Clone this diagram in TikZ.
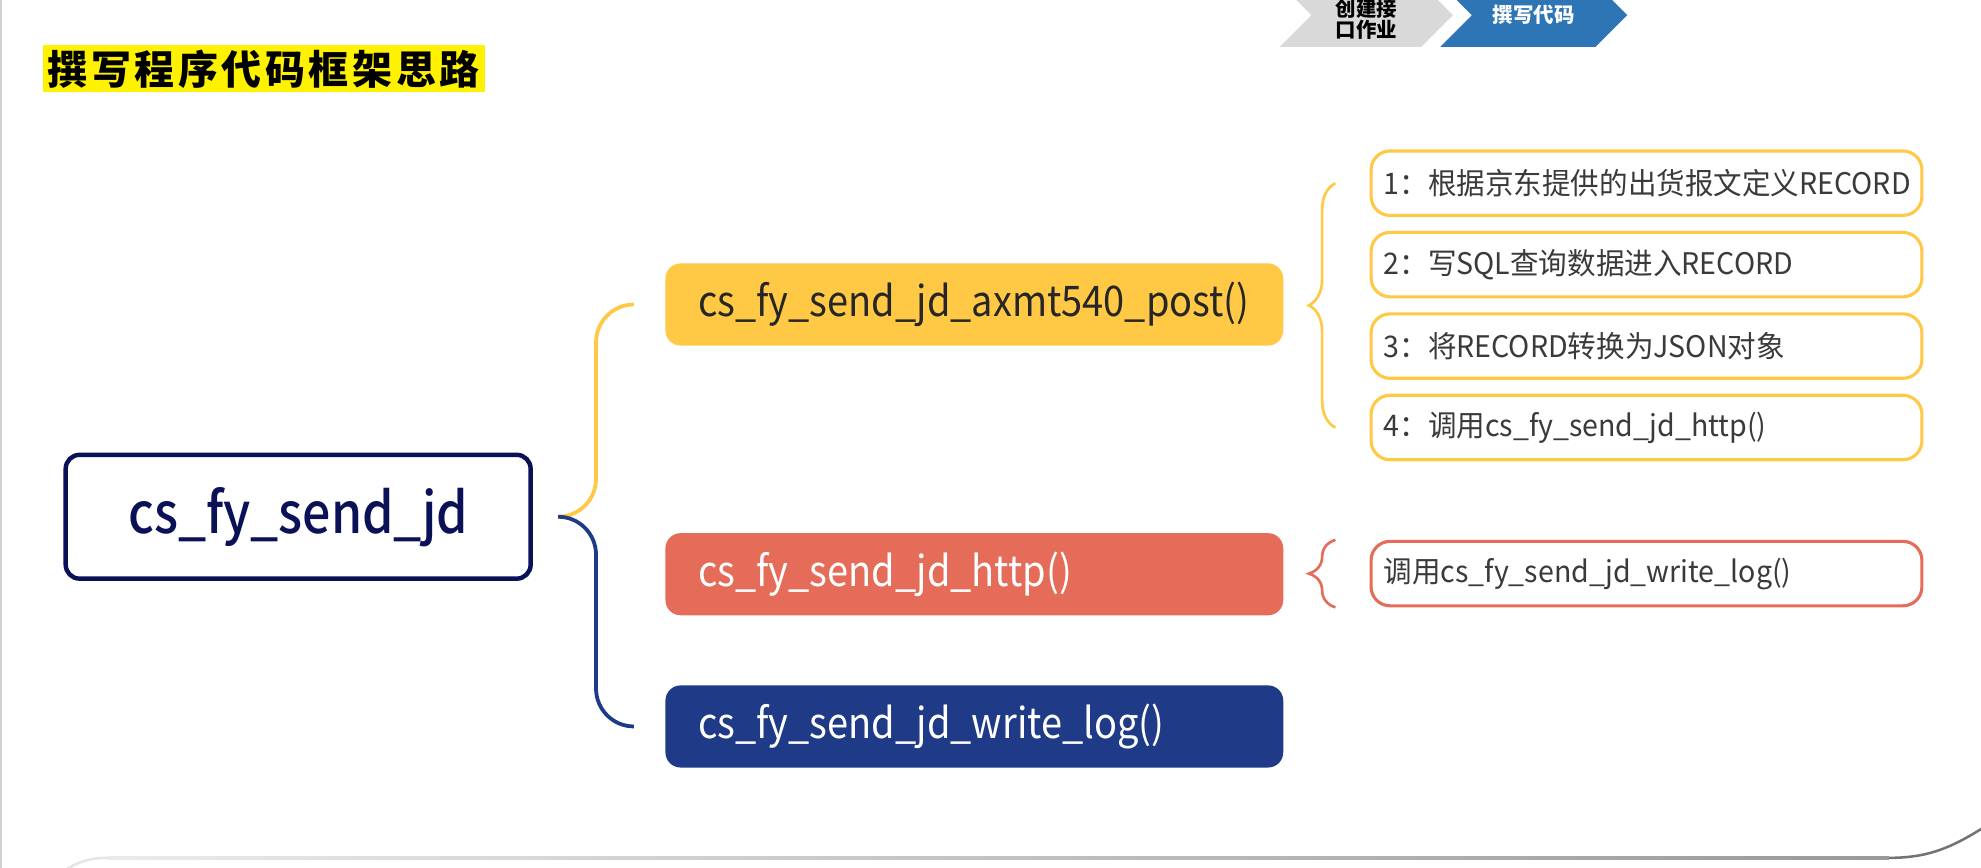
\documentclass[tikz,border=0pt]{standalone}
\usepackage{fontspec}
\setmainfont{Noto Sans CJK SC}
\newfontfamily\medio{Noto Sans CJK SC Medium}
\usetikzlibrary{positioning,shapes.symbols,decorations.pathreplacing}
\definecolor{jdyellow}{HTML}{FFC845}
\definecolor{jdred}{HTML}{E46C59}
\definecolor{jdblue}{HTML}{1F3A86}
\definecolor{jdnavy}{HTML}{0B1157}
\definecolor{stepblue}{HTML}{2E75B6}
\definecolor{stepgray}{HTML}{D9D9D9}
\definecolor{leaftext}{HTML}{3A3A3A}
\tikzstyle{radice} = [rectangle, draw=jdnavy, line width=1pt, rounded corners=1.1mm,
    minimum width=36.8mm, minimum height=9.8mm, text=jdnavy,
    font=\medio\fontsize{12.8}{15}\selectfont\addfontfeature{FakeStretch=0.88}]
\tikzstyle{ramo} = [rectangle, rounded corners=1.2mm, anchor=west, align=left,
    minimum height=6.5mm, text width=43.7mm, inner xsep=2.6mm, inner ysep=0pt,
    font=\fontsize{9.5}{11}\selectfont\addfontfeature{FakeStretch=0.9}]
\tikzstyle{foglia} = [rectangle, draw, line width=0.7pt, fill=white, rounded corners=1.5mm,
    anchor=west, align=left, minimum height=5.1mm, text width=41.6mm, inner xsep=1mm,
    inner ysep=0pt, text=leaftext, font=\fontsize{6.7}{8}\selectfont\addfontfeature{FakeStretch=0.96}]
\tikzstyle{linea} = [line width=0.85pt, rounded corners=3mm]
\tikzstyle{graffa} = [line width=0.6pt, decorate, decoration={brace, amplitude=2.1mm}]
\tikzstyle{fase} = [signal, signal from=west, signal to=east, minimum height=5mm, inner sep=0pt]
\tikzstyle{fasetesto} = [inner sep=0pt, align=center, font=\fontsize{4.6}{4.7}\selectfont\bfseries]

\begin{document}
\begin{tikzpicture}[x=1mm, y=-1mm]
  \useasboundingbox (0,0) rectangle (156.8,68.7);
  \clip (0,0) rectangle (156.8,68.7);
  \draw[black!18, line width=0.5pt] (0.1,0) -- (0.1,68.7);
  \shade[left color=black!8, right color=black!40] (8.5,67.8) rectangle (149.5,68.0);
  \draw[black!10, line width=0.57pt] (4.5,69.3) to[out=35,in=180] (8.5,67.9);
  \draw[black!55, line width=0.57pt] (149.5,67.9) to[out=0,in=212] (157,65.5);

  \node[fase, fill=stepgray, minimum width=13.7mm] (fase1) at (108.15,1.2) {};
  \node[fase, fill=stepblue, minimum width=14.8mm] (fase2) at (121.4,1.2) {};
  \node[fasetesto] at ([yshift=-0.35mm]fase1.center) {创建接\\口作业};
  \node[fasetesto, text=white] at (fase2.center) {撰写代码};
  \node[fill=yellow, anchor=west, minimum height=3.7mm, inner xsep=0.4mm, inner ysep=0pt,
    font=\fontsize{9}{10}\selectfont\bfseries\addfontfeature{LetterSpace=9}] (titolo) at (3.3,5.45) {撰写程序代码框架思路};

  \node[radice] (root) at (23.6,40.9) {cs\_fy\_send\_jd};
  \node[ramo, fill=jdyellow, text=black!85] (axmt) at (52.6,24.1) {cs\_fy\_send\_jd\_axmt540\_post()};
  \node[ramo, fill=jdred, text=white] (http) at (52.6,45.45) {cs\_fy\_send\_jd\_http()};
  \node[ramo, fill=jdblue, text=white] (log) at (52.6,57.5) {cs\_fy\_send\_jd\_write\_log()};

  \node[foglia, draw=jdyellow] (passo1) at (108.4,14.5) {1：根据京东提供的出货报文定义RECORD};
  \node[foglia, draw=jdyellow, below=1.1mm of passo1] (passo2) {2：写SQL查询数据进入RECORD};
  \node[foglia, draw=jdyellow, below=1.1mm of passo2] (passo3) {3：将RECORD转换为JSON对象};
  \node[foglia, draw=jdyellow, below=1.1mm of passo3] (passo4) {4：调用cs\_fy\_send\_jd\_http()};
  \node[foglia, draw=jdred] (scrivi) at (108.4,45.4) {调用cs\_fy\_send\_jd\_write\_log()};

  \draw[linea, jdyellow] ([xshift=2mm]root.east) -- ++(3mm,0) |- ([xshift=-2.5mm]axmt.west);
  \draw[linea, jdblue] ([xshift=2mm]root.east) -- ++(3mm,0) |- ([xshift=-2.5mm]log.west);
  \draw[graffa, jdyellow] ([xshift=-2.7mm]passo4.west) -- ([xshift=-2.7mm]passo1.west);
  \draw[graffa, jdred] ([xshift=-2.7mm]scrivi.south west) -- ([xshift=-2.7mm]scrivi.north west);
\end{tikzpicture}
\end{document}
